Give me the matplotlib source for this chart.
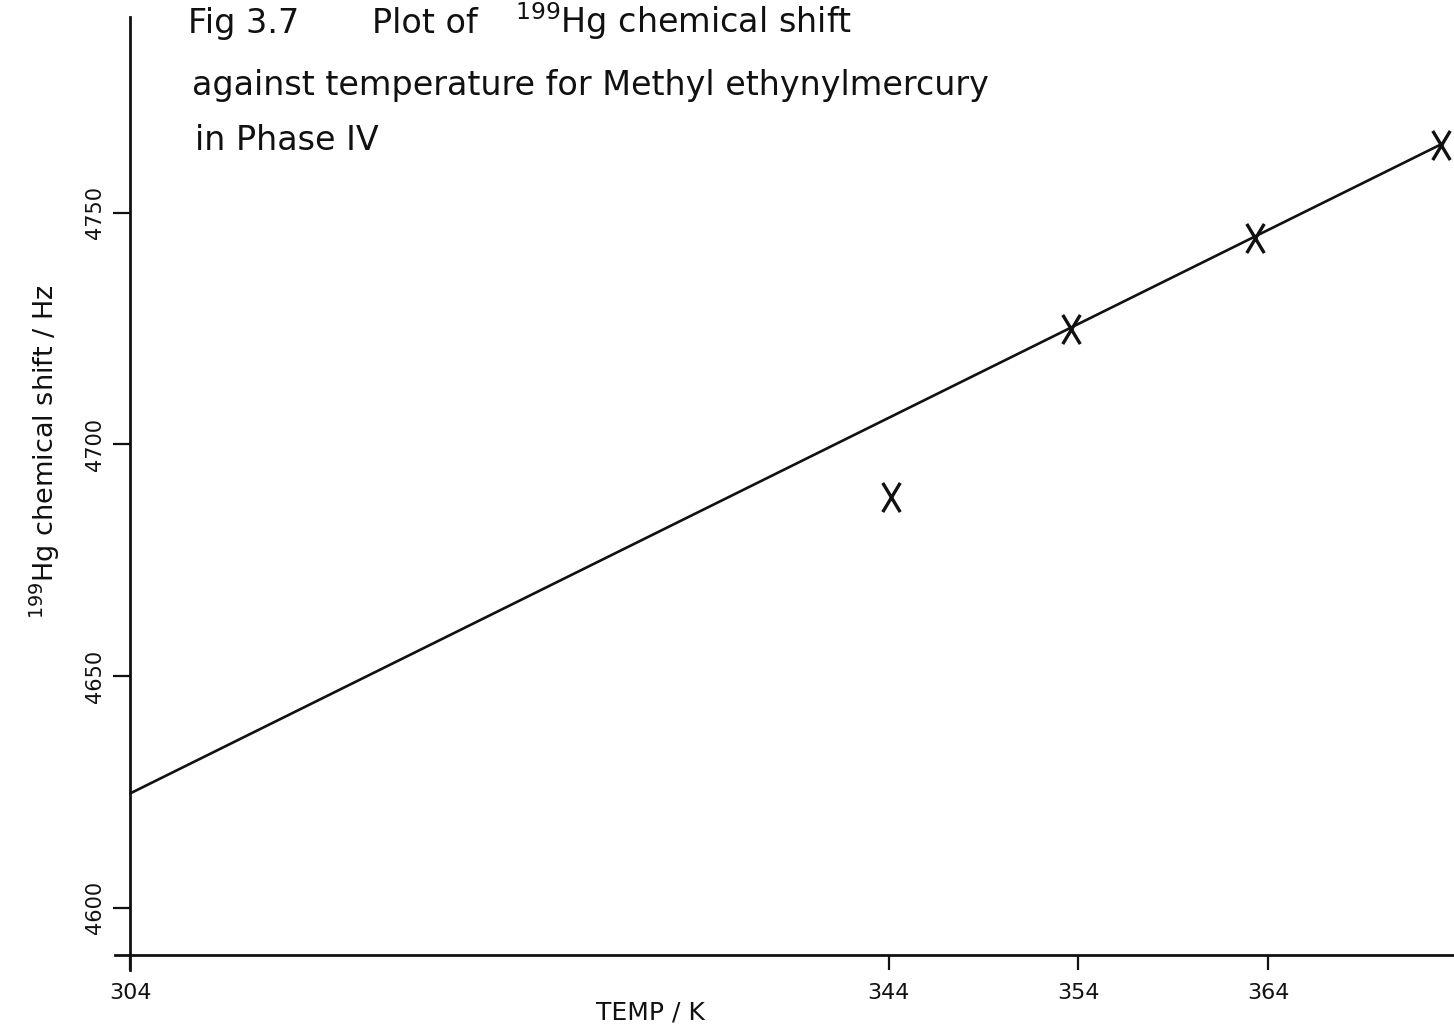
import numpy as np
import matplotlib
matplotlib.use('Agg')
import matplotlib.pyplot as plt
from matplotlib.path import Path

# 199Hg shift of methylethynylmercury, phase IV
temp_K = [344.1, 353.6, 363.3, 373.1]
shift_Hz = [4688.7, 4724.8, 4744.5, 4764.7]

# straight line drawn through the upper points
fit_T = [304.0, 373.1]
fit_shift = [4624.7, 4764.7]

xticks = [304, 344, 354, 364]
yticks = [4600, 4650, 4700, 4750]

plt.rcParams['font.family'] = ['DejaVu Sans']

fig = plt.figure(figsize=(14.54, 10.27), dpi=100)
ax = fig.add_axes([0.0791, 0.0555, 0.9209, 0.9279])

ax.set_xlim(303.2, 373.8)
ax.set_ylim(4586.6, 4792.2)

# hand drawn style cross, a bit taller than wide
xmark = Path([(-0.6, -1), (0.6, 1), (-0.6, 1), (0.6, -1)],
             [Path.MOVETO, Path.LINETO, Path.MOVETO, Path.LINETO])

ax.plot(fit_T, fit_shift, '-', color='#111111', lw=1.9, solid_capstyle='round')
ax.plot(temp_K, shift_Hz, ls='none', marker=xmark, ms=21, mec='#111111',
        mew=2.4, color='#111111')

for s in ['top', 'right']:
    ax.spines[s].set_visible(False)
ax.spines['left'].set_position(('data', 304))
ax.spines['bottom'].set_position(('data', 4589.8))
for s in ['left', 'bottom']:
    ax.spines[s].set_linewidth(2.0)
    ax.spines[s].set_color('#111111')

ax.set_xticks(xticks)
ax.set_yticks(yticks)
ax.tick_params(axis='x', direction='out', length=11, width=1.6, pad=9,
               labelsize=16, colors='#111111')
ax.tick_params(axis='y', direction='out', length=12, width=1.6, pad=6,
               labelsize=15, colors='#111111')
plt.setp(ax.get_yticklabels(), rotation=90, va='center', ha='right')

fig.text(45/1454, 1-452/1027, r'$^{199}$Hg chemical shift / Hz', rotation=90,
         ha='center', va='center', fontsize=19.5, color='#111111')
fig.text(650/1454, 1-1012/1027, 'TEMP / K', ha='center', va='center',
         fontsize=18, color='#111111')

# caption written in the top left corner
cap = dict(ha='left', va='baseline', fontsize=24, color='#111111')
fig.text(188/1454, 1-33/1027, 'Fig 3.7', **cap)
fig.text(372/1454, 1-33/1027, 'Plot of', **cap)
fig.text(515/1454, 1-33/1027, r'$^{199}$Hg chemical shift', **cap)
fig.text(192/1454, 1-95/1027, 'against temperature for Methyl ethynylmercury', **cap)
fig.text(195/1454, 1-150/1027, 'in Phase IV', **cap)

plt.savefig('out.png', dpi=100)
